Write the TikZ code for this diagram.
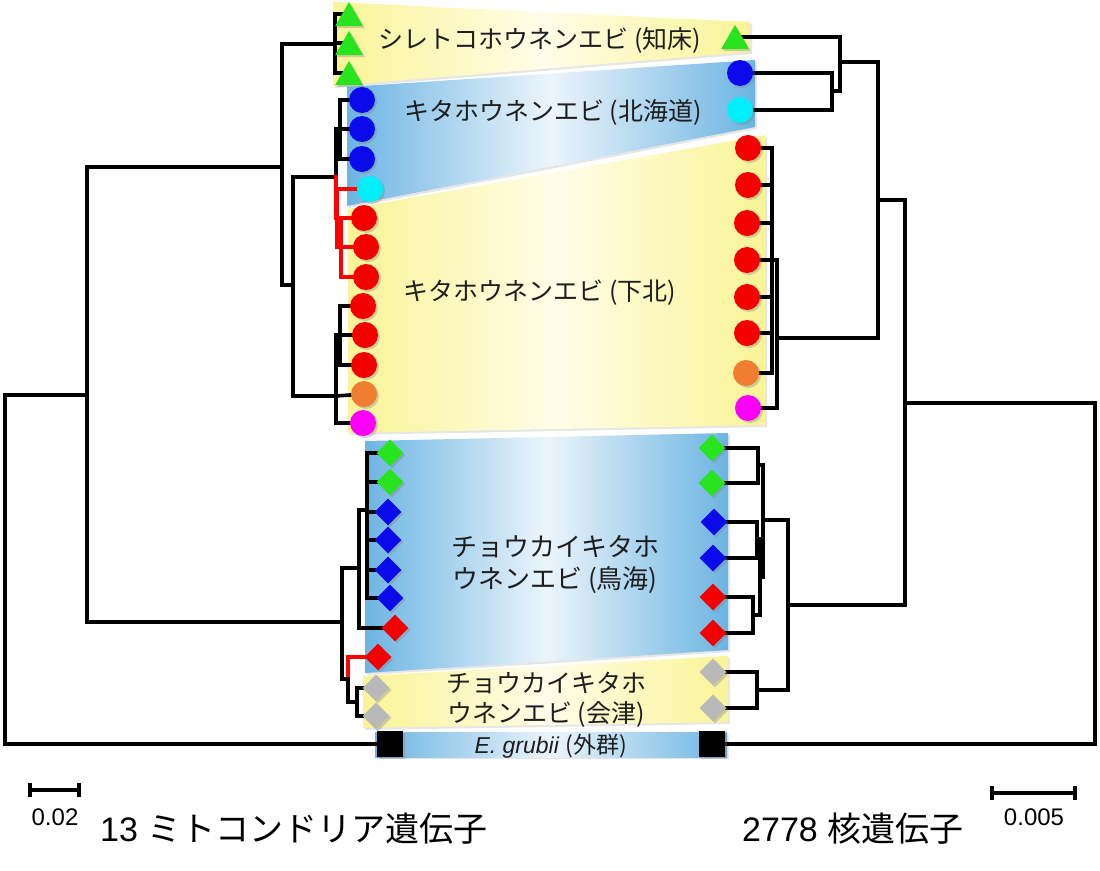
\documentclass[tikz,border=0pt]{standalone}
\usepackage{fontspec}
\setmainfont{Liberation Sans}
\newfontfamily\jp{Noto Sans CJK JP}
\usetikzlibrary{shapes.geometric,shadows}
\pgfdeclarelayer{bands}
\pgfdeclarelayer{lines}
\pgfsetlayers{bands,lines,main}
\definecolor{ylw}{RGB}{249,244,150}
\definecolor{ylwm}{RGB}{255,253,232}
\definecolor{blu}{RGB}{108,180,226}
\definecolor{blum}{RGB}{236,245,251}
\definecolor{mgreen}{RGB}{40,228,30}
\definecolor{mblue}{RGB}{10,10,235}
\definecolor{mcyan}{RGB}{0,240,250}
\definecolor{mred}{RGB}{245,0,0}
\definecolor{morange}{RGB}{240,125,50}
\definecolor{mmag}{RGB}{250,0,250}
\definecolor{mgray}{RGB}{185,185,185}
\definecolor{txt}{RGB}{30,30,30}
\tikzset{
  br/.style={line width=3.6pt, line cap=rect, line join=miter},
  sb/.style={line width=3.4pt},
  mk/.style={draw=none, inner sep=0pt, drop shadow={shadow xshift=2pt, shadow yshift=-2pt, opacity=0.35}},
  circ/.style={mk, circle, minimum size=26pt},
  tri/.style={mk, regular polygon, regular polygon sides=3, minimum size=32pt, fill=mgreen},
  dia/.style={mk, diamond, aspect=1, minimum width=27pt, minimum height=27pt},
  sq/.style={mk, rectangle, minimum size=26pt, fill=black},
  yband/.style={left color=ylw, right color=ylw, middle color=ylwm, drop shadow={shadow xshift=2pt, shadow yshift=-2pt, opacity=0.2}},
  bband/.style={left color=blu, right color=blu, middle color=blum, drop shadow={shadow xshift=2pt, shadow yshift=-2pt, opacity=0.2}},
  lbl/.style={font={\jp\fontsize{25}{31}\selectfont}, text=txt, inner sep=0pt, align=center}
}
\begin{document}
\begin{tikzpicture}[x=1pt,y=-1pt]
\useasboundingbox (0,0) rectangle (1100,870);
% ---------- bands ----------
\begin{pgfonlayer}{bands}
\shade[yband] (333,2) -- (750,22) -- (750,52) -- (333,86) -- cycle;
\shade[bband] (347,87) -- (755,60) -- (755,127) -- (347,206) -- cycle;
\shade[yband] (348,209) -- (765,135) -- (765,425) -- (348,433) -- cycle;
\shade[bband] (365,441) -- (728,433) -- (728,650) -- (365,673) -- cycle;
\shade[yband] (363,676) -- (728,656) -- (728,722) -- (363,728) -- cycle;
\shade[bband] (375,732) -- (727,732) -- (727,757) -- (375,757) -- cycle;
\end{pgfonlayer}
% ---------- left markers ----------
\node[tri] (T1) at (349,18) {};
\node[tri] (T2) at (349,47) {};
\node[tri] (T3) at (349,77) {};
\node[circ, fill=mblue] (B1) at (362,100) {};
\node[circ, fill=mblue] (B2) at (362,129) {};
\node[circ, fill=mblue] (B3) at (362,159) {};
\node[circ, fill=mcyan] (C) at (370,189) {};
\node[circ, fill=mred] (R1) at (364,218) {};
\node[circ, fill=mred] (R2) at (366,247) {};
\node[circ, fill=mred] (R3) at (366,277) {};
\node[circ, fill=mred] (R4) at (363,306) {};
\node[circ, fill=mred] (R5) at (365,335) {};
\node[circ, fill=mred] (R6) at (364,365) {};
\node[circ, fill=morange] (O) at (364,394) {};
\node[circ, fill=mmag] (M) at (363,423) {};
\node[dia, fill=mgreen] (G1) at (390,453) {};
\node[dia, fill=mgreen] (G2) at (390,482) {};
\node[dia, fill=mblue] (Bd1) at (388,512) {};
\node[dia, fill=mblue] (Bd2) at (388,540) {};
\node[dia, fill=mblue] (Bd3) at (388,570) {};
\node[dia, fill=mblue] (Bd4) at (390,598) {};
\node[dia, fill=mred] (Rd1) at (395,628) {};
\node[dia, fill=mred] (Rd2) at (378,657) {};
\node[dia, fill=mgray] (Gy1) at (376,688) {};
\node[dia, fill=mgray] (Gy2) at (376,716) {};
\node[sq] (Sq1) at (390,744) {};
% ---------- right markers ----------
\node[tri] (T4) at (735,41) {};
\node[circ, fill=mblue] (Bc) at (740,73) {};
\node[circ, fill=mcyan] (Cc) at (740,110) {};
\node[circ, fill=mred] (Rr1) at (748,148) {};
\node[circ, fill=mred] (Rr2) at (748,185) {};
\node[circ, fill=mred] (Rr3) at (747,223) {};
\node[circ, fill=mred] (Rr4) at (747,260) {};
\node[circ, fill=mred] (Rr5) at (747,297) {};
\node[circ, fill=mred] (Rr6) at (747,333) {};
\node[circ, fill=morange] (Or) at (746,373) {};
\node[circ, fill=mmag] (Mr) at (748,408) {};
\node[dia, fill=mgreen] (Gr1) at (712,448) {};
\node[dia, fill=mgreen] (Gr2) at (712,483) {};
\node[dia, fill=mblue] (Br1) at (714,522) {};
\node[dia, fill=mblue] (Br2) at (713,558) {};
\node[dia, fill=mred] (Rdr1) at (713,597) {};
\node[dia, fill=mred] (Rdr2) at (713,633) {};
\node[dia, fill=mgray] (Gyr1) at (713,672) {};
\node[dia, fill=mgray] (Gyr2) at (713,708) {};
\node[sq] (Sq2) at (712,744) {};
% ---------- internal coordinates ----------
\coordinate (ntri) at (335,44);
\coordinate (nblue) at (340,129);
\coordinate (nredA) at (341,247);
\coordinate (nred) at (337,218);
\coordinate (nBR) at (336,177);
\coordinate (nlowA) at (340,335);
\coordinate (nlow) at (336,396);
\coordinate (nmid) at (293,285);
\coordinate (ntop) at (282,167);
\coordinate (nA) at (87,395);
\coordinate (nroot) at (5,570);
\coordinate (nc1) at (367,510);
\coordinate (nc2) at (359,568);
\coordinate (nc3) at (342,622);
\coordinate (nc4) at (348,679);
\coordinate (ngy) at (357,702);
\coordinate (rbc) at (832,91);
\coordinate (rtop) at (840,62);
\coordinate (rredA) at (772,260);
\coordinate (rred) at (777,338);
\coordinate (rup) at (878,200);
\coordinate (rgr) at (758,465);
\coordinate (rbl) at (757,539);
\coordinate (rrd) at (753,615);
\coordinate (rX) at (760,577);
\coordinate (rY) at (763,520);
\coordinate (rgy) at (757,690);
\coordinate (rch) at (788,605);
\coordinate (rB) at (905,403);
\coordinate (rroot) at (1095,574);
% ---------- tree lines ----------
\begin{pgfonlayer}{lines}
% left tree
\draw[br] (nroot) |- (nA);
\draw[br] (nroot) |- (Sq1);
\draw[br] (nA) |- (ntop);
\draw[br] (nA) |- (nc3);
\draw[br] (ntop) |- (ntri);
\draw[br] (ntop) |- (nmid);
\foreach \t in {T1,T2,T3} \draw[br] (ntri) |- ([yshift=4pt]\t.center);
\draw[br] (nmid) |- (nBR);
\draw[br] (nmid) |- (nlow);
\draw[br] (nBR) |- (nblue);
\foreach \t in {B1,B2,B3} \draw[br] (nblue) |- (\t);
\draw[br, red] (nBR) |- (nred);
\draw[br, red] (nred) |- (C);
\draw[br, red] (nred) |- (nredA);
\foreach \t in {R1,R2,R3} \draw[br, red] (nredA) |- (\t);
\draw[br] (nlow) |- (nlowA);
\draw[br] (nlow) -- (O);
\draw[br] (nlow) |- (M);
\foreach \t in {R4,R5,R6} \draw[br] (nlowA) |- (\t);
\draw[br] (nc3) |- (nc2);
\draw[br] (nc3) |- (nc4);
\draw[br] (nc2) |- (nc1);
\draw[br] (nc2) |- (Rd1);
\foreach \t in {G1,G2,Bd1,Bd2,Bd3,Bd4} \draw[br] (nc1) |- (\t);
\draw[br, red] (nc4) |- (Rd2);
\draw[br] (nc4) |- (ngy);
\draw[br] (ngy) |- (Gy1);
\draw[br] (ngy) |- (Gy2);
% right tree
\draw[br] (rroot) |- (rB);
\draw[br] (rroot) |- (Sq2);
\draw[br] (rB) |- (rup);
\draw[br] (rB) |- (rch);
\draw[br] (rup) |- (rtop);
\draw[br] (rup) |- (rred);
\draw[br] (rtop) |- ([yshift=4pt]T4.center);
\draw[br] (rtop) |- (rbc);
\draw[br] (rbc) |- (Bc);
\draw[br] (rbc) |- (Cc);
\draw[br] (rred) |- (rredA);
\draw[br] (rred) |- (Mr);
\foreach \t in {Rr1,Rr2,Rr3,Rr4,Rr5,Rr6,Or} \draw[br] (rredA) |- (\t);
\draw[br] (rch) |- (rY);
\draw[br] (rch) |- (rgy);
\draw[br] (rY) |- (rgr);
\draw[br] (rY) |- (rX);
\draw[br] (rX) |- (rbl);
\draw[br] (rX) |- (rrd);
\draw[br] (rgr) |- (Gr1);
\draw[br] (rgr) |- (Gr2);
\draw[br] (rbl) |- (Br1);
\draw[br] (rbl) |- (Br2);
\draw[br] (rrd) |- (Rdr1);
\draw[br] (rrd) |- (Rdr2);
\draw[br] (rgy) |- (Gyr1);
\draw[br] (rgy) |- (Gyr2);
\end{pgfonlayer}
% ---------- labels ----------
\node[lbl] (L1) at (540,40) {シレトコホウネンエビ (知床)};
\node[lbl] (L2) at (553,112) {キタホウネンエビ (北海道)};
\node[lbl] (L3) at (540,293) {キタホウネンエビ (下北)};
\node[lbl, font={\jp\fontsize{26}{32}\selectfont}] (L4) at (555,564) {チョウカイキタホ\\ウネンエビ (鳥海)};
\node[lbl, font={\jp\fontsize{25}{30}\selectfont}] (L5) at (546,700) {チョウカイキタホ\\ウネンエビ (会津)};
\node[inner sep=0pt, text=txt, font=\fontsize{23}{26}\selectfont] (L6) at (551,746) {\textit{E. grubii} {\jp (外群)}};
% ---------- scale bars and captions ----------
\coordinate (sl1) at (30,790);
\coordinate (sl2) at (79,790);
\draw[sb] (sl1) -- (sl2);
\draw[sb] ([yshift=7pt]sl1) -- ([yshift=-7pt]sl1);
\draw[sb] ([yshift=7pt]sl2) -- ([yshift=-7pt]sl2);
\node[inner sep=0pt, font=\fontsize{24}{27}\selectfont] (s1) at (55,817) {0.02};
\coordinate (sr1) at (992,793);
\coordinate (sr2) at (1075,793);
\draw[sb] (sr1) -- (sr2);
\draw[sb] ([yshift=7pt]sr1) -- ([yshift=-7pt]sr1);
\draw[sb] ([yshift=7pt]sr2) -- ([yshift=-7pt]sr2);
\node[inner sep=0pt, font=\fontsize{24}{27}\selectfont] (s2) at (1034,817) {0.005};
\node[inner sep=0pt, anchor=west, font=\fontsize{34}{38}\selectfont] (cap1) at (100,829) {13 {\jp ミトコンドリア遺伝子}};
\node[inner sep=0pt, anchor=west, font=\fontsize{34}{38}\selectfont] (cap2) at (742,829) {2778 {\jp 核遺伝子}};
\end{tikzpicture}
\end{document}
